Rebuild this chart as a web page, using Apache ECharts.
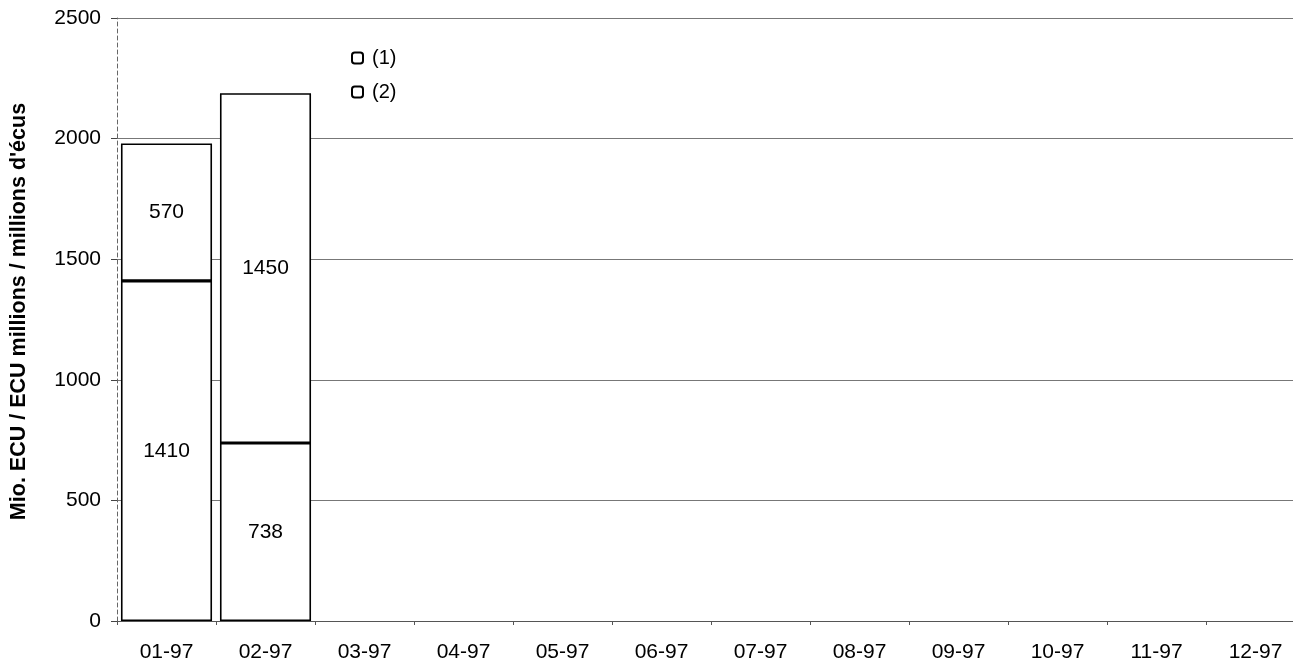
<!DOCTYPE html>
<html><head><meta charset="utf-8">
<script src="https://cdn.jsdelivr.net/npm/echarts@6/dist/echarts.min.js"></script>
<style>html,body{margin:0;padding:0;background:#fff;overflow:hidden}#c{width:1305px;height:663px}</style>
</head><body><div id="c"></div>
<script>
var categories = ['01-97','02-97','03-97','04-97','05-97','06-97','07-97','08-97','09-97','10-97','11-97','12-97'];
var seriesBottom = [1410, 738, null, null, null, null, null, null, null, null, null, null];
var seriesTop = [570, 1450, null, null, null, null, null, null, null, null, null, null];
var yTicks = [0, 500, 1000, 1500, 2000, 2500];
var yTitle = "Mio. ECU / ECU millions / millions d'écus";

var font = 'Liberation Sans, Arial, sans-serif';
var chart = echarts.init(document.getElementById('c'));
var barStyle = {color: '#ffffff', borderColor: '#000000', borderWidth: 1.6};
var lbl = {show: true, position: 'inside', color: '#000', fontSize: 21, fontFamily: font};
chart.setOption({
  animation: false,
  backgroundColor: '#ffffff',
  grid: {left: 116, top: 18, height: 603, right: 0},
  legend: {
    orient: 'vertical', left: 351, top: 48, itemGap: 14, padding: 0,
    itemWidth: 11, itemHeight: 11, icon: 'roundRect',
    data: ['(1)', '(2)'],
    textStyle: {fontSize: 20, fontFamily: font, color: '#000', padding: [0, 0, 0, 4]},
    itemStyle: {color: '#fff', borderColor: '#000', borderWidth: 2}
  },
  xAxis: {
    type: 'category', data: categories,
    axisLine: {show: true, lineStyle: {color: '#555', width: 1}},
    axisTick: {show: true, length: 4, lineStyle: {color: '#555'}},
    axisLabel: {color: '#000', fontSize: 21, fontFamily: font, margin: 21}
  },
  yAxis: {
    type: 'value', min: yTicks[0], max: yTicks[yTicks.length - 1], interval: 500,
    name: yTitle, nameLocation: 'middle', nameGap: 87, nameRotate: 90,
    nameTextStyle: {fontSize: 21.5, fontWeight: 'bold', fontFamily: font, color: '#000', padding: [0, 0, 0, 16]},
    axisLine: {show: true, lineStyle: {color: '#666', width: 1, type: [4, 3]}},
    axisTick: {show: true, length: 6, lineStyle: {color: '#444'}},
    axisLabel: {color: '#000', fontSize: 21, fontFamily: font, margin: 16, formatter: function (v) { return String(v); }},
    splitLine: {show: true, lineStyle: {color: '#777', width: 1}}
  },
  series: [
    {name: '(2)', type: 'bar', stack: 'a', data: seriesBottom, barCategoryGap: '8%', itemStyle: barStyle, label: lbl},
    {name: '(1)', type: 'bar', stack: 'a', data: seriesTop, barCategoryGap: '8%', itemStyle: barStyle, label: lbl}
  ]
});
</script></body></html>
